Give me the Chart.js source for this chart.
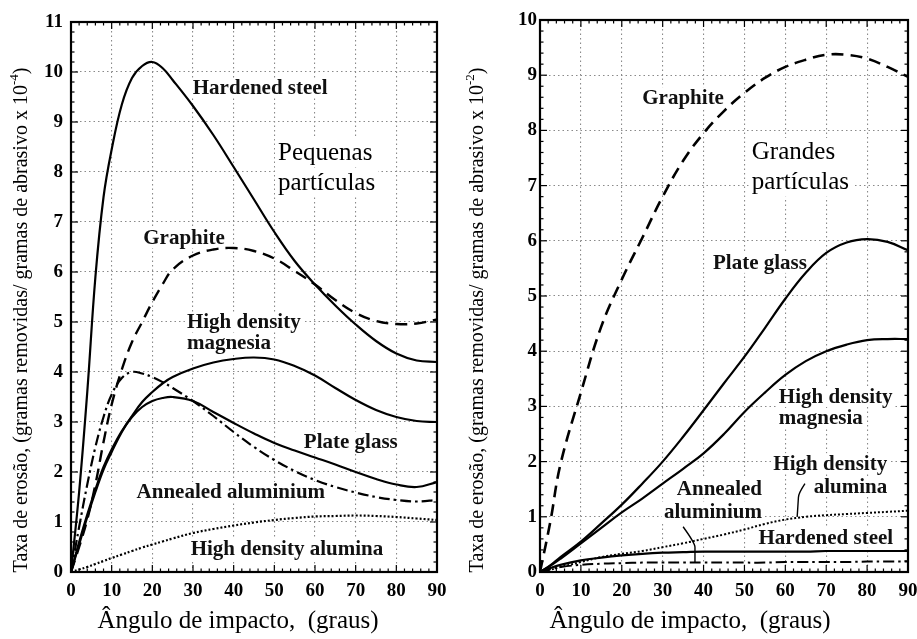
<!DOCTYPE html>
<html><head><meta charset="utf-8">
<script src="https://cdn.jsdelivr.net/npm/chart.js@4/dist/chart.umd.min.js"></script>
<style>
html,body{margin:0;padding:0;background:#fff;}
#wrap{position:relative;width:917px;height:639px;overflow:hidden;background:#fff;}
</style></head><body>
<div id="wrap">
<canvas id="c1" width="457" height="639" style="position:absolute;left:0;top:0;width:457px;height:639px"></canvas>
<canvas id="c2" width="460" height="639" style="position:absolute;left:457px;top:0;width:460px;height:639px"></canvas>
</div>
<script>
// ---------- DATA ----------
const anglesL = [0,2,4,6,8,10,12.5,15,17.5,20,22.5,25,30,35,40,45,50,55,60,65,70,75,80,85,90];
const steelL    = [0,1.6,3.6,5.9,7.5,8.45,9.35,9.88,10.12,10.2,10.08,9.84,9.32,8.74,8.1,7.45,6.8,6.22,5.75,5.33,4.95,4.62,4.37,4.23,4.2];
const graphiteL = [0,0.5,1.05,1.75,2.6,3.35,4.05,4.6,5.0,5.4,5.75,6.05,6.33,6.45,6.48,6.42,6.27,6.02,5.75,5.44,5.18,5.02,4.96,4.97,5.05];
const magnesiaL = [0,0.55,1.1,1.6,2.05,2.4,2.8,3.12,3.4,3.6,3.77,3.9,4.07,4.19,4.26,4.29,4.25,4.12,3.93,3.68,3.44,3.24,3.1,3.02,3.0];
const plateL    = [0,0.6,1.15,1.65,2.1,2.45,2.82,3.1,3.3,3.42,3.48,3.5,3.42,3.2,2.98,2.77,2.58,2.43,2.29,2.15,2.0,1.86,1.75,1.7,1.8];
const annealedL = [0,0.9,1.75,2.5,3.1,3.55,3.88,4.0,3.97,3.9,3.8,3.68,3.42,3.12,2.8,2.5,2.24,2.02,1.84,1.7,1.59,1.5,1.44,1.41,1.44];
const aluminaL  = [0,0.05,0.1,0.16,0.22,0.28,0.35,0.42,0.49,0.55,0.61,0.67,0.78,0.86,0.93,0.99,1.04,1.08,1.11,1.12,1.13,1.12,1.1,1.07,1.04];

const anglesR = [0,2.5,5,10,15,20,25,30,35,40,45,50,55,60,65,70,75,80,85,90];
const graphiteR = [0,0.9,1.95,3.25,4.45,5.3,6.05,6.8,7.45,7.95,8.35,8.68,8.95,9.15,9.28,9.37,9.37,9.3,9.15,8.97];
const plateR    = [0,0.12,0.27,0.55,0.88,1.22,1.6,2.0,2.45,2.93,3.42,3.9,4.42,4.95,5.42,5.78,5.97,6.03,5.98,5.83];
const magnesiaR = [0,0.11,0.24,0.52,0.8,1.08,1.33,1.6,1.87,2.15,2.5,2.9,3.25,3.57,3.82,4.0,4.12,4.2,4.22,4.22];
const aluminaR  = [0,0.04,0.09,0.18,0.27,0.33,0.38,0.45,0.52,0.6,0.68,0.77,0.87,0.95,1.0,1.03,1.05,1.07,1.09,1.11];
const steelR    = [0,0.07,0.13,0.21,0.26,0.3,0.33,0.35,0.36,0.37,0.37,0.37,0.37,0.37,0.37,0.38,0.38,0.38,0.38,0.38];
const annealedR = [0,0.05,0.09,0.13,0.15,0.16,0.17,0.17,0.17,0.17,0.17,0.17,0.17,0.18,0.18,0.18,0.18,0.19,0.19,0.19];

const xTicks = [0,10,20,30,40,50,60,70,80,90];
const yTicksL = [0,1,2,3,4,5,6,7,8,9,10,11];
const yTicksR = [0,1,2,3,4,5,6,7,8,9,10];

const xTitle = "Ângulo de impacto,  (graus)";
const yTitleMain = "Taxa de erosão, (gramas removidas/ gramas de abrasivo x 10";
const yExpL = "-4", yExpR = "-2";

// curve labels: [text, angle, value, align]
const labelsL = [
  ["Hardened steel", 46.5, 9.68, "center"],
  ["Graphite", 27.8, 6.68, "center"],
  ["High density", 28.5, 5.0, "left"],
  ["magnesia", 28.5, 4.58, "left"],
  ["Plate glass", 68.8, 2.6, "center"],
  ["Annealed aluminium", 39.3, 1.6, "center"],
  ["High density alumina", 53.1, 0.46, "center"]
];
const notesL = [["Pequenas", 50.9, 8.4], ["partículas", 50.9, 7.8]];
const labelsR = [
  ["Graphite", 35, 8.6, "center"],
  ["Plate glass", 53.8, 5.6, "center"],
  ["High density", 58.4, 3.17, "left"],
  ["magnesia", 58.4, 2.79, "left"],
  ["High density", 84.9, 1.97, "right"],
  ["alumina", 84.9, 1.54, "right"],
  ["Annealed", 54.3, 1.52, "right"],
  ["aluminium", 54.3, 1.09, "right"],
  ["Hardened steel", 69.9, 0.62, "center"]
];
const notesR = [["Grandes", 51.8, 7.61], ["partículas", 51.8, 7.07]];
// leader lines (angle, value) points
const leadersR = [
  [[64.8,1.6],[63.2,1.35],[62.9,1.0]],
  [[35,0.82],[37.9,0.45],[37.9,0.17]]
];

// ---------- HELPERS ----------
const pts = (xs, ys) => xs.map((x,i)=>({x, y: ys[i]}));
const LABEL_FONT = 'bold 21px "Liberation Serif", "Times New Roman", serif';
const TICK_FONT = { family: '"Liberation Serif", serif', size: 19, weight: 'bold' };

function ds(label, xs, ys, dash, lw){
  return { label, data: pts(xs, ys), borderColor:'#000', backgroundColor:'#000',
    borderWidth: lw || 2.2, borderDash: dash || [], pointRadius: 0,
    tension: 0.4, fill:false };
}

const decorPlugin = {
  id: 'decor',
  beforeDatasetsDraw(chart, args, o){
    const {ctx, scales:{x,y}} = chart;
    ctx.save();
    ctx.font = LABEL_FONT; ctx.textBaseline = 'middle';
    for (const [t,a,v,al] of o.labels){
      const px = x.getPixelForValue(a), py = y.getPixelForValue(v);
      const w = ctx.measureText(t).width;
      let l = al==='left'?px:(al==='right'?px-w:px-w/2);
      ctx.fillStyle='#fff'; ctx.fillRect(l-2, py-10, w+4, 20);
      ctx.fillStyle='#111'; ctx.textAlign='left'; ctx.fillText(t, l, py+1);
    }
    ctx.font = '25px "Liberation Serif", "Times New Roman", serif';
    for (const [t,a,v] of o.notes){
      const px = x.getPixelForValue(a), py = y.getPixelForValue(v);
      const w = ctx.measureText(t).width;
      ctx.fillStyle='#fff'; ctx.fillRect(px-3, py-14, w+6, 29);
    }
    for (const [t,a,v] of o.notes){
      const px = x.getPixelForValue(a), py = y.getPixelForValue(v);
      ctx.fillStyle='#000'; ctx.textAlign='left'; ctx.fillText(t, px, py+1);
    }
    ctx.restore();
  },
  afterDatasetsDraw(chart, args, o){
    const {ctx, chartArea:a, scales:{x,y}} = chart;
    ctx.save();
    ctx.strokeStyle='#000'; ctx.lineWidth=1.4; ctx.setLineDash([]);
    for (const L of (o.leaders||[])){
      const p = L.map(([u,v])=>[x.getPixelForValue(u), y.getPixelForValue(v)]);
      ctx.beginPath(); ctx.moveTo(p[0][0],p[0][1]);
      ctx.quadraticCurveTo(p[1][0],p[1][1]-4,p[1][0],p[1][1]);
      ctx.lineTo(p[2][0],p[2][1]); ctx.stroke();
    }
    ctx.lineWidth=1.2;
    const line=(x1,y1,x2,y2)=>{ctx.beginPath();ctx.moveTo(x1,y1);ctx.lineTo(x2,y2);ctx.stroke();};
    for (let v=0; v<=90.001; v+=2){
      const px=x.getPixelForValue(v); const L = (Math.abs(v%10)<1e-6)?7:3.5;
      line(px,a.bottom,px,a.bottom-L); line(px,a.top,px,a.top+L);
    }
    for (let v=0; v<=o.ymax+0.001; v+=0.2){
      const py=y.getPixelForValue(v); const L = (Math.abs(v-Math.round(v))<1e-6)?7:3.5;
      line(a.left,py,a.left+L,py); line(a.right,py,a.right-L,py);
    }
    ctx.lineWidth=2.2;
    ctx.strokeRect(a.left,a.top,a.right-a.left,a.bottom-a.top);
    ctx.restore();
  },
  afterDraw(chart, args, o){
    const {ctx} = chart;
    ctx.save();
    ctx.fillStyle='#000';
    ctx.font='25px "Liberation Serif", "Times New Roman", serif';
    ctx.textAlign='center'; ctx.textBaseline='middle';
    ctx.fillText(xTitle, o.xTitleX, o.xTitleY);
    const f1='20px "Liberation Serif", "Times New Roman", serif', f2='13px "Liberation Serif", "Times New Roman", serif';
    ctx.font=f1; const w1=ctx.measureText(yTitleMain).width, w3=ctx.measureText(")").width;
    ctx.font=f2; const w2=ctx.measureText(o.exp).width;
    const tot=w1+w2+w3;
    ctx.translate(o.yTitleX, o.yTitleY); ctx.rotate(-Math.PI/2);
    ctx.textAlign='left'; ctx.textBaseline='alphabetic';
    let s=-tot/2;
    ctx.font=f1; ctx.fillText(yTitleMain, s, 7); s+=w1;
    ctx.font=f2; ctx.fillText(o.exp, s, -2); s+=w2;
    ctx.font=f1; ctx.fillText(")", s, 7);
    ctx.restore();
  }
};

function makeChart(id, sets, yTicks, ymax, yWidth, padRight, padTop, tickPadY, decor){
  return new Chart(document.getElementById(id), {
    type:'line',
    data:{ datasets: sets },
    plugins:[decorPlugin],
    options:{
      responsive:false, animation:false, devicePixelRatio:1,
      layout:{ padding:{ left:0, right:padRight, top:padTop, bottom:0 } },
      plugins:{ legend:{display:false}, tooltip:{enabled:false}, decor },
      scales:{
        x:{ type:'linear', min:0, max:90,
          afterBuildTicks(s){ s.ticks = xTicks.map(v=>({value:v})); },
          afterFit(s){ s.height=67; s.paddingLeft=0; s.paddingRight=0; },
          grid:{ color:'#8a8a8a', lineWidth:1.1, drawTicks:false },
          border:{ display:false, dash:[1.5,3] },
          ticks:{ color:'#000', font:TICK_FONT, padding:8, maxRotation:0, autoSkip:false,
            callback:(v)=>String(v) } },
        y:{ type:'linear', min:0, max:ymax,
          afterBuildTicks(s){ s.ticks = yTicks.map(v=>({value:v})); },
          afterFit(s){ s.width=yWidth; s.paddingTop=0; s.paddingBottom=0; },
          grid:{ color:'#8a8a8a', lineWidth:1.1, drawTicks:false },
          border:{ display:false, dash:[1.5,3] },
          ticks:{ color:'#000', font:TICK_FONT, padding:tickPadY, autoSkip:false,
            callback:(v)=>String(v) } }
      }
    }
  });
}

makeChart('c1', [
  ds('Hardened steel', anglesL, steelL),
  ds('Graphite', anglesL, graphiteL, [12,7], 2.4),
  ds('High density magnesia', anglesL, magnesiaL),
  ds('Plate glass', anglesL, plateL),
  ds('Annealed aluminium', anglesL, annealedL, [11,4,2.5,4], 2.2),
  ds('High density alumina', anglesL, aluminaL, [2,2], 2.2)
], yTicksL, 11, 71, 20, 22, 8,
{ labels: labelsL, notes: notesL, leaders: [], ymax:11, xTitleX:238, xTitleY:621, yTitleX:20, yTitleY:320, exp:yExpL });

makeChart('c2', [
  ds('Graphite', anglesR, graphiteR, [12,7], 2.6),
  ds('Plate glass', anglesR, plateR),
  ds('High density magnesia', anglesR, magnesiaR),
  ds('High density alumina', anglesR, aluminaR, [2,2], 2.0),
  ds('Hardened steel', anglesR, steelR),
  ds('Annealed aluminium', anglesR, annealedR, [11,4,2.5,4], 2.0)
], yTicksR, 10, 83, 9, 20, 3,
{ labels: labelsR, notes: notesR, leaders: leadersR, ymax:10, xTitleX:233, xTitleY:621, yTitleX:19, yTitleY:320, exp:yExpR });
</script>
</body></html>
